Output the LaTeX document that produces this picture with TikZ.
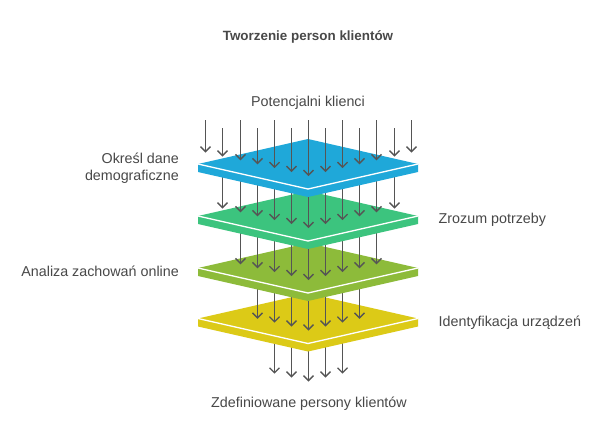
\documentclass[tikz,border=0pt]{standalone}
\usepackage{fontspec}
\setmainfont{Liberation Sans}
\usetikzlibrary{arrows.meta}
\definecolor{cblue}{HTML}{1FA8D9}
\definecolor{cgreen}{HTML}{3CC47E}
\definecolor{colive}{HTML}{8DBB3A}
\definecolor{cyellow}{HTML}{DCCA17}
\definecolor{arrowgray}{HTML}{555555}
\definecolor{txt}{HTML}{484848}
\tikzset{
  flow/.style={draw=arrowgray, line width=1.4pt, -{Straight Barb[length=5pt,width=10pt,line width=1.4pt]}},
  lbl/.style={inner sep=0pt, text=txt, font=\fontsize{14.3}{17}\selectfont},
  ttl/.style={inner sep=0pt, text=txt, font=\fontsize{13.4}{16}\selectfont\bfseries},
}
% plate: #1 center y, #2 colour
\newcommand{\plateat}[2]{%
  \fill[#2] (198,#1) -- (308,#1+25) -- (418,#1) -- (418,#1+8) -- (308,#1+33) -- (198,#1+8) -- cycle;
  \fill[#2] (198,#1) -- (308,#1-25) -- (418,#1) -- (308,#1+25) -- cycle;
  \draw[white, line width=1.3pt, line join=miter] (198,#1) -- (308,#1+25) -- (418,#1);
}
% arrows ending on plate: #1 max |k|, #2 start y, #3 plate centre y
\newcommand{\flowto}[3]{%
  \foreach \k in {-#1,...,#1}{
    \pgfmathsetmacro{\xx}{round(308+17.1*\k)+0.5}
    \pgfmathsetmacro{\yy}{#3+25-25*abs(17.1*\k)/110-13}
    \draw[flow] (\xx,#2) -- (\xx,\yy);
  }
}
\begin{document}
\begin{tikzpicture}[x=1pt,y=-1pt]
\useasboundingbox (0,0) rectangle (600,421);
\fill[white] (0,0) rectangle (600,421);

% bottom arrows (leaving yellow plate)
\foreach \k in {-2,...,2}{
  \pgfmathsetmacro{\xx}{round(308+17.1*\k)+0.5}
  \pgfmathsetmacro{\yy}{381.5-0.227*abs(17.1*\k)}
  \draw[flow] (\xx,318.5) -- (\xx,\yy);
}
\plateat{318.5}{cyellow}
\flowto{3}{268}{318.5}
\plateat{268}{colive}
\flowto{4}{216}{268}
\plateat{216}{cgreen}
\flowto{5}{164}{216}
\plateat{164}{cblue}
% top arrows (incoming)
\foreach \k in {-6,...,6}{
  \pgfmathsetmacro{\xx}{round(308+17.1*\k)+0.5}
  \pgfmathsetmacro{\yy}{164+25-25*abs(17.1*\k)/110-13}
  \pgfmathtruncatemacro{\odd}{mod(abs(\k),2)}
  \pgfmathsetmacro{\ys}{\odd==1 ? 128 : 120}
  \draw[flow] (\xx,\ys) -- (\xx,\yy);
}

\node[ttl] (title) at (308,36.5) {Tworzenie person klientów};
\node[lbl] (input) at (308,103) {Potencjalni klienci};
\node[lbl, anchor=east, align=right] (l1) at (179,168.3) {Określ dane\\demograficzne};
\node[lbl, anchor=west] (l2) at (438.5,220) {Zrozum potrzeby};
\node[lbl, anchor=east] (l3) at (179,271.5) {Analiza zachowań online};
\node[lbl, anchor=west] (l4) at (438.5,323) {Identyfikacja urządzeń};
\node[lbl] (output) at (309,403.5) {Zdefiniowane persony klientów};
\end{tikzpicture}
\end{document}
